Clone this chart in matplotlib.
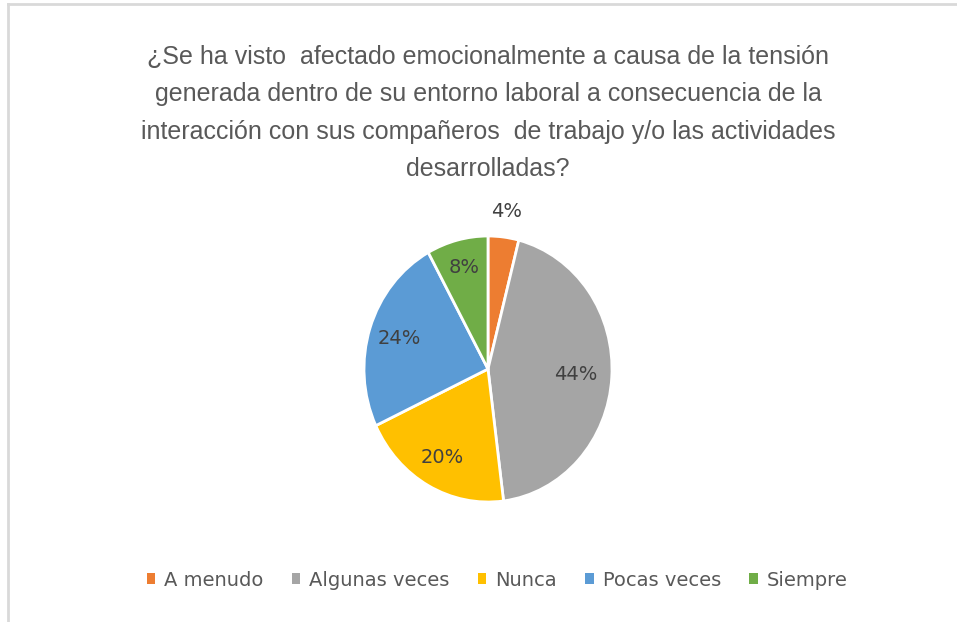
import matplotlib
matplotlib.use("Agg")
import matplotlib.pyplot as plt
from matplotlib.patches import Patch
import numpy as np

categories = ["A menudo", "Algunas veces", "Nunca", "Pocas veces", "Siempre"]
values = [4, 44, 20, 24, 8]
colors = ["#ED7D31", "#A5A5A5", "#FFC000", "#5B9BD5", "#70AD47"]
title = ("¿Se ha visto  afectado emocionalmente a causa de la tensión\n"
         "generada dentro de su entorno laboral a consecuencia de la\n"
         "interacción con sus compañeros  de trabajo y/o las actividades\n"
         "desarrolladas?")
label_dist = [1.19, 0.71, 0.76, 0.75, 0.79]

plt.rcParams["font.family"] = ["DejaVu Sans"]

W, H = 957, 622
fig = plt.figure(figsize=(W / 100, H / 100), dpi=100)
fig.patch.set_facecolor("white")

# border lines (Excel chart area)
fig.add_artist(plt.Line2D([8 / W, 8 / W], [0, 1 - 4 / H], color="#D9D9D9", lw=2))
fig.add_artist(plt.Line2D([8 / W, 1], [1 - 4 / H, 1 - 4 / H], color="#D9D9D9", lw=2))

cx, cy, rx, ry = 488, 369, 124, 133
ax = fig.add_axes([(cx - 1.25 * rx) / W, (H - cy - 1.25 * ry) / H, 2.5 * rx / W, 2.5 * ry / H])
wedges, _ = ax.pie(values, colors=colors, startangle=90, counterclock=False,
                   wedgeprops=dict(edgecolor="white", linewidth=2))
ax.set_aspect("auto")
ax.set_xlim(-1.25, 1.25)
ax.set_ylim(-1.25, 1.25)

for w, v, d in zip(wedges, values, label_dist):
    ang = np.deg2rad((w.theta1 + w.theta2) / 2)
    ax.text(d * np.cos(ang), d * np.sin(ang), f"{v}%", ha="center", va="center",
            fontsize=14, color="#404040")

fig.text(cx / W, 1 - 45 / H, title, ha="center", va="top", fontsize=18,
         color="#595959", linespacing=1.7, family=["Liberation Sans", "DejaVu Sans"])

handles = [Patch(facecolor=c, edgecolor="none") for c in colors]
fig.legend(handles, categories, loc="center", bbox_to_anchor=(497 / W, 1 - 580 / H),
           ncol=5, frameon=False, fontsize=14, labelcolor="#595959",
           handlelength=0.45, handleheight=0.55, handletextpad=0.45,
           columnspacing=1.45)

fig.savefig("out.png", dpi=100)
